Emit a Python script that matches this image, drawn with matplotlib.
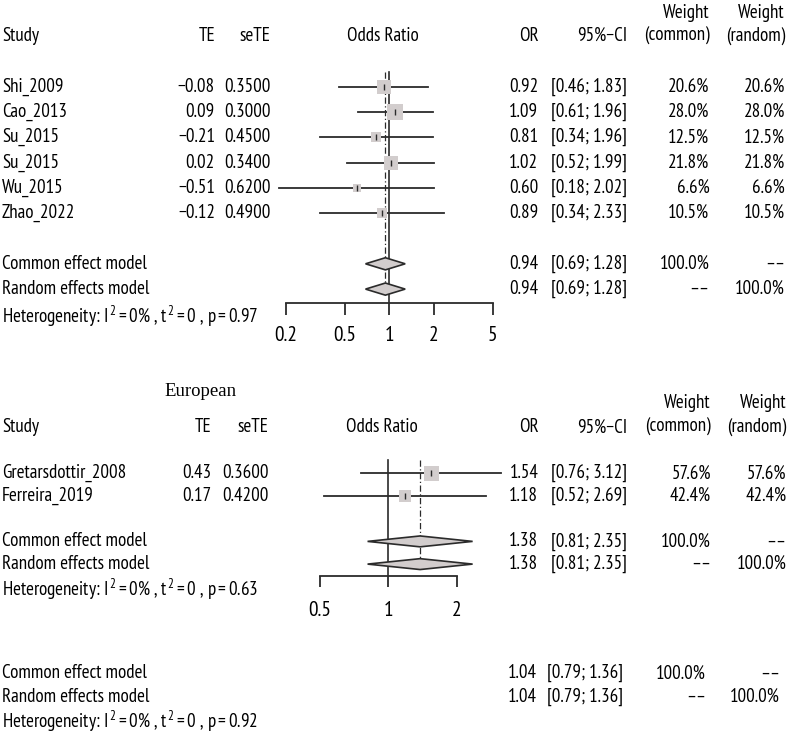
import matplotlib
matplotlib.use("Agg")
import matplotlib.pyplot as plt
import numpy as np

SANS = "PT Sans Narrow"
plt.rcParams["font.family"] = [SANS, "DejaVu Sans"]
plt.rcParams["mathtext.fontset"] = "custom"
plt.rcParams["mathtext.rm"] = SANS
plt.rcParams["mathtext.it"] = SANS
plt.rcParams["mathtext.default"] = "rm"

W, H = 789, 734

# ---- data: subgroup 1 ----
studies_1 = ["Shi_2009", "Cao_2013", "Su_2015", "Su_2015", "Wu_2015", "Zhao_2022"]
te_1 = [-0.08, 0.09, -0.21, 0.02, -0.51, -0.12]
sete_1 = [0.35, 0.30, 0.45, 0.34, 0.62, 0.49]
or_1 = [0.92, 1.09, 0.81, 1.02, 0.60, 0.89]
lo_1 = [0.46, 0.61, 0.34, 0.52, 0.18, 0.34]
hi_1 = [1.83, 1.96, 1.96, 1.99, 2.02, 2.33]
w_1 = [20.6, 28.0, 12.5, 21.8, 6.6, 10.5]
pool_1 = [0.94, 0.69, 1.28]
p_het_1 = "0.97"
ticks_1 = [0.2, 0.5, 1, 2, 5]

# ---- data: European ----
studies_2 = ["Gretarsdottir_2008", "Ferreira_2019"]
te_2 = [0.43, 0.17]
sete_2 = [0.36, 0.42]
or_2 = [1.54, 1.18]
lo_2 = [0.76, 0.52]
hi_2 = [3.12, 2.69]
w_2 = [57.6, 42.4]
pool_2 = [1.38, 0.81, 2.35]
p_het_2 = "0.63"
ticks_2 = [0.5, 1, 2]

# ---- overall ----
pool_all = [1.04, 0.79, 1.36]
p_het_all = "0.92"

LINE = "#2b2b2b"
BOX = "#d2cdcd"
DASHES = "\u2013\u2013"

fig = plt.figure(figsize=(W / 100, H / 100), dpi=100)
tx = fig.add_axes([0, 0, 1, 1])
tx.set_xlim(0, W)
tx.set_ylim(H, 0)
tx.axis("off")
renderer = fig.canvas.get_renderer()


def fit(s, px, **kw):
    # font size giving a text of about px pixels wide
    t = tx.text(0, 0, s, fontsize=10, **kw)
    w = t.get_window_extent(renderer).width
    t.remove()
    return 10 * px / w


FS = fit("Common effect model", 145)
FS_TICK = fit("0.5", 20.7) * 1.1


def num(v):
    return f"{v:.2f}".replace("-", "\u2212")


def ci(lo, hi):
    return f"[{lo:.2f}; {hi:.2f}]"


def het(p):
    return (r"Heterogeneity: $\mathrm{I}^{\,2}=0\%$ , "
            r"$\mathrm{t}^{\,2}=0$ , $\mathrm{p}=" + p + "$")


def forest(y0, dy, rows_st, rows_pool, xl, xr, top, bottom, xlim, ticks,
           ors, los, his, ws, pool, box_max, dash_end, tick_len, pad):
    ax = fig.add_axes([xl / W, 1 - bottom / H, (xr - xl) / W, (bottom - top) / H])
    ax.set_xscale("log")
    ax.set_xlim(*xlim)
    ax.set_ylim((bottom - y0) / dy, (top - y0) / dy)
    ax.patch.set_visible(False)
    for s in ["left", "right", "top"]:
        ax.spines[s].set_visible(False)
    ax.spines["bottom"].set_color(LINE)
    ax.spines["bottom"].set_linewidth(1.3)
    ax.set_yticks([])
    ax.set_xticks(ticks)
    ax.set_xticklabels([f"{t:g}" for t in ticks], fontsize=FS_TICK)
    ax.xaxis.set_minor_locator(matplotlib.ticker.NullLocator())
    ax.tick_params(axis="x", direction="out", length=tick_len, width=1.3,
                   color=LINE, pad=pad)
    yline_top = (top + 12 - y0) / dy
    ax.plot([1, 1], [yline_top, ax.get_ylim()[0]], color=LINE, lw=1.2, clip_on=False)
    ax.plot([pool[0], pool[0]], [yline_top, dash_end], color=LINE, lw=0.9,
            ls=(0, (5, 2, 1, 2)), clip_on=False)
    wmax = max(ws)
    for r, o, lo, hi, w in zip(rows_st, ors, los, his, ws):
        ax.plot([lo, hi], [r, r], color=LINE, lw=1.3, clip_on=False, zorder=2)
        side = box_max * np.sqrt(w / wmax) * 0.72
        ax.scatter([o], [r], marker="s", s=side ** 2, color=BOX, lw=0, zorder=3)
        ax.plot([o], [r], marker="|", ms=5, mew=1, color=LINE, zorder=4)
    for r in rows_pool:
        ax.fill([pool[1], pool[0], pool[2], pool[0]], [r, r - 0.24, r, r + 0.24],
                facecolor=BOX, edgecolor=LINE, lw=1.2, zorder=3, clip_on=False)
    return ax


def put(x, y, s, ha="left", fs=None):
    tx.text(x, y, s, fontsize=fs or FS, va="center", ha=ha)


# ---- top subgroup ----
y0, dy = 86.7, 25.3
cols = dict(te=215, se=270.7, orr=538.3, ci=627.3, wc=709.3, wr=785)
put(2, 36, "Study")
put(cols["te"], 36, "TE", "right")
put(cols["se"], 36, "seTE", "right")
put(383, 36, "Odds Ratio", "center")
put(cols["orr"], 36, "OR", "right")
put(cols["ci"], 36, "95%\u2212CI", "right")
put(cols["wc"], 13, "Weight", "right")
put(cols["wc"], 36, "(common)", "right")
put(cols["wr"], 13, "Weight", "right")
put(cols["wr"], 36, "(random)", "right")
for i, s in enumerate(studies_1):
    y = y0 + i * dy
    put(2, y, s)
    put(cols["te"], y, num(te_1[i]), "right")
    put(cols["se"], y, f"{sete_1[i]:.4f}", "right")
    put(cols["orr"], y, f"{or_1[i]:.2f}", "right")
    put(cols["ci"], y, ci(lo_1[i], hi_1[i]), "right")
    put(cols["wc"], y, f"{w_1[i]:.1f}%", "right")
    put(cols["wr"], y, f"{w_1[i]:.1f}%", "right")
for r, lab, wc, wr in [(7, "Common effect model", "100.0%", DASHES),
                       (8, "Random effects model", DASHES, "100.0%")]:
    y = y0 + r * dy
    put(2, y, lab)
    put(cols["orr"], y, f"{pool_1[0]:.2f}", "right")
    put(cols["ci"], y, ci(pool_1[1], pool_1[2]), "right")
    put(cols["wc"], y, wc, "right")
    put(cols["wr"], y, wr, "right")
put(2, 316.5, het(p_het_1))
forest(y0, dy, range(6), [7, 8], 286, 492.7, 60, 302.7, (0.2, 5), ticks_1,
       or_1, lo_1, hi_1, w_1, pool_1, 15.7, 8.2, 8.8, 8)

# ---- European subgroup ----
y0, dy = 473.3, 22.7
cols = dict(te=211.7, se=268.3, orr=538.3, ci=627.3, wc=711, wr=786.7)
tx.text(201, 391.7, "European", fontsize=13.5, va="center", ha="center",
        family=["Liberation Serif", "DejaVu Serif"])
hy = 427.3
put(2, hy, "Study")
put(cols["te"], hy, "TE", "right")
put(cols["se"], hy, "seTE", "right")
put(381.7, hy, "Odds Ratio", "center")
put(cols["orr"], hy, "OR", "right")
put(cols["ci"], hy, "95%\u2212CI", "right")
put(cols["wc"], 403.3, "Weight", "right")
put(cols["wc"], hy, "(common)", "right")
put(cols["wr"], 403.3, "Weight", "right")
put(cols["wr"], hy, "(random)", "right")
for i, s in enumerate(studies_2):
    y = y0 + i * dy
    put(2, y, s)
    put(cols["te"], y, num(te_2[i]), "right")
    put(cols["se"], y, f"{sete_2[i]:.4f}", "right")
    put(cols["orr"], y, f"{or_2[i]:.2f}", "right")
    put(cols["ci"], y, ci(lo_2[i], hi_2[i]), "right")
    put(cols["wc"], y, f"{w_2[i]:.1f}%", "right")
    put(cols["wr"], y, f"{w_2[i]:.1f}%", "right")
for r, lab, wc, wr in [(3, "Common effect model", "100.0%", DASHES),
                       (4, "Random effects model", DASHES, "100.0%")]:
    y = y0 + r * dy
    put(2, y, lab)
    put(cols["orr"], y, f"{pool_2[0]:.2f}", "right")
    put(cols["ci"], y, ci(pool_2[1], pool_2[2]), "right")
    put(cols["wc"], y, wc, "right")
    put(cols["wr"], y, wr, "right")
put(2, 589, het(p_het_2))
forest(y0, dy, range(2), [3, 4], 320, 456.7, 448, 575.7, (0.5, 2), ticks_2,
       or_2, lo_2, hi_2, w_2, pool_2, 15.0, 3.73, 8.0, 10)

# ---- overall ----
cols = dict(orr=536.7, ci=623.3, wc=706, wr=780)
for y, lab, wc, wr in [(673.3, "Common effect model", "100.0%", DASHES),
                       (696.7, "Random effects model", DASHES, "100.0%")]:
    put(2, y, lab)
    put(cols["orr"], y, f"{pool_all[0]:.2f}", "right")
    put(cols["ci"], y, ci(pool_all[1], pool_all[2]), "right")
    put(cols["wc"], y, wc, "right")
    put(cols["wr"], y, wr, "right")
put(2, 721.7, het(p_het_all))

fig.savefig("out.png", dpi=100)
